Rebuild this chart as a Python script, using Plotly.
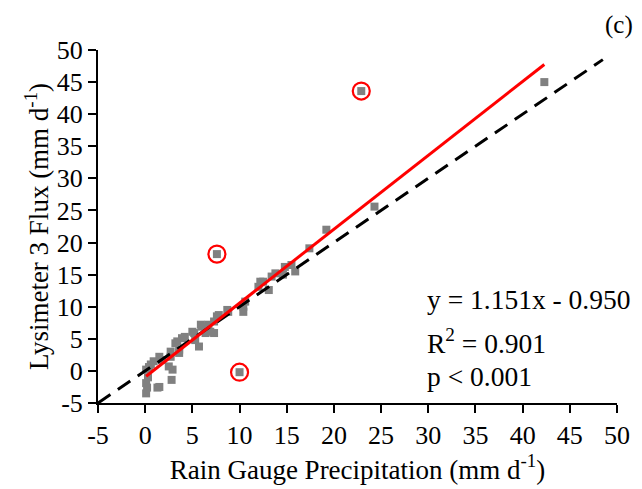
import plotly.graph_objects as go

# Data
rain_gauge = [0.1, 0.2, 0.1, 0.3, 0.1, 0.4, 0.6, 0.9, 1.3, 1.5, 1.5, 1.8, 2.5, 2.8, 2.9,
              2.7, 2.7, 3.2, 3.4, 3.6, 3.6, 3.9, 4.2, 5.0, 5.2, 5.3, 5.7, 5.9, 6.0, 6.4,
              6.7, 6.9, 7.3, 7.3, 7.6, 7.8, 8.7, 8.8, 10.4, 10.4, 10.6, 12.0, 12.2, 12.5,
              13.1, 13.4, 13.8, 14.6, 14.8, 15.5, 15.9, 17.4, 19.2, 24.3, 42.3,
              7.6, 10.0, 22.9]
lysimeter = [-3.5, -2.6, -1.9, -1.0, 0.2, 0.6, 1.0, 1.5, -2.6, -2.5, 2.2, 1.7, 0.7, -1.4, 0.2,
             2.2, 3.0, 4.3, 4.6, 2.8, 3.3, 5.1, 5.3, 6.1, 5.9, 4.8, 3.8, 7.2, 6.9, 5.9,
             7.2, 6.1, 5.9, 7.7, 8.5, 8.7, 9.5, 9.2, 10.0, 9.2, 10.8, 13.1, 13.9, 13.9,
             12.6, 14.7, 15.2, 15.0, 16.2, 16.5, 15.5, 19.1, 22.0, 25.6, 45.0,
             18.2, -0.2, 43.6]
outlier_x = [7.6, 10.0, 22.9]
outlier_y = [18.2, -0.2, 43.6]

slope = 1.151
intercept = -0.950
one_to_one = [-5, 48.5]
tick_vals = [-5, 0, 5, 10, 15, 20, 25, 30, 35, 40, 45, 50]
tick_text = ["-5", "0", "5", "10", "15", "20", "25", "30", "35", "40", "45", "50"]
stats_lines = ["y = 1.151x - 0.950", "R<sup>2</sup> = 0.901", "p < 0.001"]

FONT = "Liberation Serif"

fit_x = [min(rain_gauge), max(rain_gauge)]
fit_y = [slope * v + intercept for v in fit_x]

fig = go.Figure()
fig.add_trace(go.Scatter(x=rain_gauge, y=lysimeter, mode="markers",
                         marker=dict(symbol="square", size=8, color="#808080"),
                         showlegend=False, cliponaxis=False))
fig.add_trace(go.Scatter(x=one_to_one, y=one_to_one, mode="lines",
                         line=dict(color="black", width=3, dash="15px,9px"),
                         showlegend=False, cliponaxis=False))
fig.add_trace(go.Scatter(x=fit_x, y=fit_y, mode="lines",
                         line=dict(color="red", width=3),
                         showlegend=False))
fig.add_trace(go.Scatter(x=outlier_x, y=outlier_y, mode="markers",
                         marker=dict(symbol="circle-open", size=17,
                                     line=dict(color="red", width=2.2), color="red"),
                         showlegend=False))

stat_y = [11.1, 4.6, -0.9]
for txt, yy in zip(stats_lines, stat_y):
    fig.add_annotation(x=29.7, y=yy, xref="x", yref="y", text=txt, showarrow=False,
                       xanchor="left", yanchor="middle",
                       font=dict(family=FONT, size=27.5, color="black"))

fig.add_annotation(x=1.035, y=1.07, xref="paper", yref="paper", text="(c)",
                   showarrow=False, xanchor="right", yanchor="middle",
                   font=dict(family=FONT, size=25, color="black"))

axis_common = dict(range=[-5, 50], tickvals=tick_vals, ticktext=tick_text,
                   showgrid=False, zeroline=False,
                   showline=True, linecolor="black", linewidth=2,
                   ticks="outside", ticklen=8, tickwidth=2, tickcolor="black",
                   tickfont=dict(family=FONT, size=26, color="black"))

fig.update_layout(
    width=642, height=489,
    margin=dict(l=98, r=22, t=50, b=86),
    plot_bgcolor="white", paper_bgcolor="white",
    xaxis=dict(**axis_common,
               title=dict(text="Rain Gauge Precipitation (mm d<sup>-1</sup>)",
                          font=dict(family=FONT, size=27, color="black"), standoff=8)),
    yaxis=dict(**axis_common,
               title=dict(text="Lysimeter 3 Flux (mm d<sup>-1</sup>)",
                          font=dict(family=FONT, size=27, color="black"), standoff=0)),
)

fig.write_html("out.html", config={"displayModeBar": False},
               post_script="document.body.style.margin='0';document.body.style.overflow='hidden';")
